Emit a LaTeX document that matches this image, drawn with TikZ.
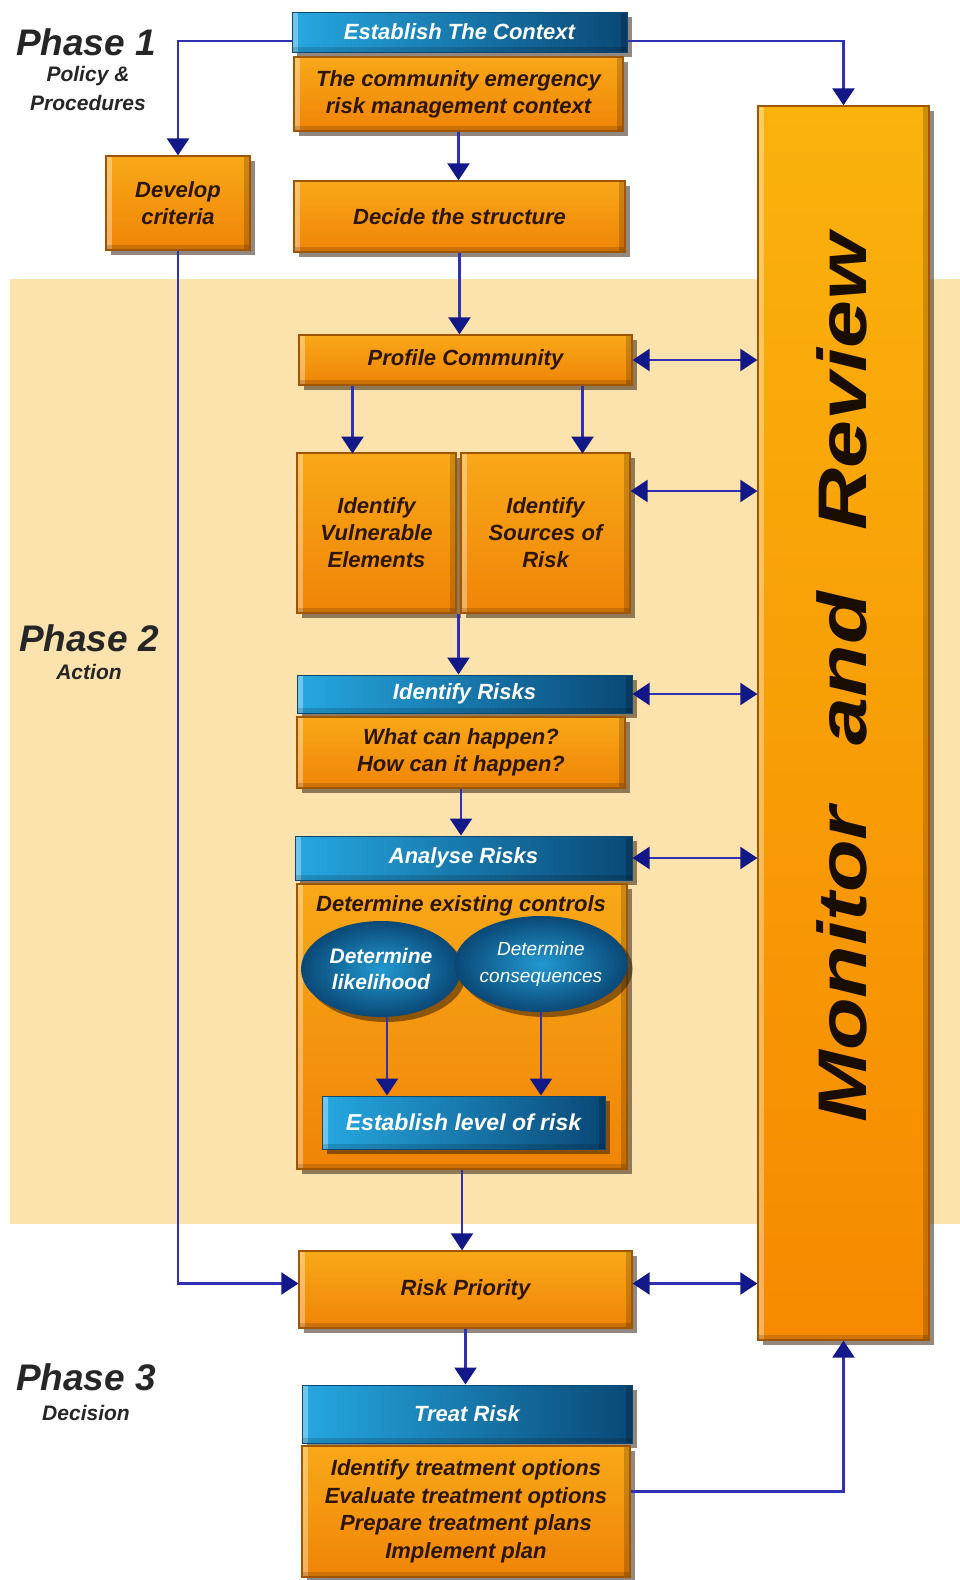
\documentclass[tikz,border=0pt]{standalone}
\usepackage{fontspec}
\setmainfont{Liberation Sans}
\usetikzlibrary{arrows.meta,shapes.geometric,shadows,calc}

\definecolor{peach}{RGB}{252,226,172}
\definecolor{orTop}{RGB}{248,168,24}
\definecolor{orBot}{RGB}{240,132,6}
\definecolor{orEdge}{RGB}{160,86,0}
\definecolor{blL}{RGB}{38,168,225}
\definecolor{blR}{RGB}{10,72,118}
\definecolor{navy}{RGB}{18,24,135}
\definecolor{lineblue}{RGB}{48,48,178}
\definecolor{txt}{RGB}{45,22,8}
\definecolor{monTop}{RGB}{250,178,12}
\definecolor{monBot}{RGB}{246,138,0}

\newcommand{\fs}[2]{\fontsize{#1}{#2}\selectfont}

\tikzset{
  shade3d/.style={drop shadow={shadow xshift=5pt,shadow yshift=-5pt,fill=black!85!orange,opacity=0.5}},
  bevel/.style={path picture={
      \fill[white,opacity=0.35] (path picture bounding box.south west) rectangle ([xshift=6pt]path picture bounding box.north west);
      \fill[black,opacity=0.18] ([xshift=-6pt]path picture bounding box.south east) rectangle (path picture bounding box.north east);
      \fill[black,opacity=0.15] (path picture bounding box.south west) rectangle ([yshift=5pt]path picture bounding box.south east);
  }},
  obox/.style={rectangle,inner sep=0pt,align=center,top color=orTop,bottom color=orBot,
    draw=orEdge,line width=1.2pt,text=txt,font=\bfseries\itshape\fs{22}{27},shade3d,bevel},
  bbar/.style={rectangle,inner sep=0pt,align=center,left color=blL,right color=blR,
    draw=blR,line width=1pt,text=white,font=\bfseries\itshape\fs{22}{27},shade3d,bevel},
  ebox/.style={ellipse,inner sep=0pt,align=center,inner color=blL!85!blR,outer color=blR,
    text=white,shade3d},
  phase/.style={text=black!85,font=\bfseries\itshape\fs{37}{40}},
  phsub/.style={text=black!85,font=\bfseries\itshape\fs{21}{26}},
  con/.style={draw=lineblue,line width=2.2pt},
  >={Triangle[width=22pt,length=17pt,color=navy]},
}

\begin{document}
\begin{tikzpicture}[x=1pt,y=-1pt]
\useasboundingbox (0,0) rectangle (960,1580);
\fill[white] (0,0) rectangle (960,1580);
% phase 2 band
\fill[peach] (10,279) rectangle (960,1224);

% phase labels
\node[phase] (p1) at (86,42) {Phase 1};
\node[phsub] (p1a) at (88,76) {Policy \&};
\node[phsub] (p1b) at (88,103) {Procedures};
\node[phase] (p2) at (89,638) {Phase 2};
\node[phsub] (p2a) at (89,672) {Action};
\node[phase] (p3) at (86,1377) {Phase 3};
\node[phsub] (p3a) at (86,1413) {Decision};

% monitor column
\node[rectangle,minimum width=171pt,minimum height=1234pt,top color=monTop,bottom color=monBot,
  draw=orEdge,line width=1.2pt,shade3d,bevel] (mon) at (843.5,723) {};
\node[rotate=90,text=black!90!orange,font=\bfseries\itshape\fs{86}{90}] (montxt) at (842,678)
  {\scalebox{1}[0.8]{Monitor\hspace{62pt}and\hspace{62pt}Review}};

% phase 1 boxes
\node[bbar,minimum width=335pt,minimum height=40pt] (est) at (459.5,32) {Establish The Context};
\node[obox,minimum width=329pt,minimum height=74pt] (ctx) at (458.5,94) {The community emergency\\risk management context};
\node[obox,minimum width=331pt,minimum height=71pt] (dec) at (459.5,216.5) {Decide the structure};
\node[obox,minimum width=144pt,minimum height=94pt] (dev) at (178,203) {Develop\\criteria};

% phase 2 boxes
\node[obox,minimum width=333pt,minimum height=50pt] (prof) at (465.5,360) {Profile Community};
\node[obox,minimum width=159pt,minimum height=160pt] (vul) at (376.5,533) {Identify\\Vulnerable\\Elements};
\node[obox,minimum width=169pt,minimum height=160pt] (src) at (545.5,533) {Identify\\Sources of\\Risk};
\node[bbar,minimum width=335pt,minimum height=38pt] (idr) at (464.5,694) {Identify Risks};
\node[obox,minimum width=328pt,minimum height=71pt] (what) at (461,752.5) {What can happen?\\How can it happen?};
\node[bbar,minimum width=337pt,minimum height=44pt] (ana) at (463.5,858) {Analyse Risks};
\node[obox,minimum width=330pt,minimum height=285pt] (anabox) at (462,1026.5) {};
\node[text=txt,font=\bfseries\itshape\fs{22}{27}] (ctrl) at (461,906) {Determine existing controls};
\node[ebox,minimum width=160pt,minimum height=96pt,font=\bfseries\itshape\fs{21}{26}] (ell1) at (381,969) {Determine\\likelihood};
\node[ebox,minimum width=150pt,minimum height=96pt,font=\itshape\fs{19}{27}] (ell2) at (541,964) {Determine\\consequences};
\node[bbar,minimum width=283pt,minimum height=53pt,font=\bfseries\itshape\fs{23}{27}] (lvl) at (463.5,1122.5) {Establish level of risk};

% phase 3 boxes
\node[obox,minimum width=333pt,minimum height=77pt] (pri) at (465.5,1289.5) {Risk Priority};
\node[bbar,minimum width=330pt,minimum height=58pt] (treat) at (467,1414) {Treat Risk};
\node[obox,minimum width=328pt,minimum height=131pt,font=\bfseries\itshape\fs{22}{27.5}] (topt) at (466,1511.5)
  {Identify treatment options\\Evaluate treatment options\\Prepare treatment plans\\Implement plan};

% connectors
\draw[con,->] (est.west) ++(0,9) -| (dev.north);
\draw[con,->] (est.east) ++(0,9) -| (mon.north);
\draw[con,->] (ctx.south) -- (ctx.south |- dec.north);
\draw[con,->] (dec.south) -- (dec.south |- prof.north);
\draw[con,->] (dev.south) |- ([yshift=6pt]pri.west);
\draw[con,<->] (prof.east) -- (prof.east -| mon.west);
\draw[con,->] (prof.south -| vul.north) ++(-24,0) -- ++(0,68);
\draw[con,->] (prof.south -| src.north) ++(37,0) -- ++(0,68);
\draw[con,<->] ([yshift=42pt]src.east) -- ([yshift=42pt]src.east -| mon.west);
\coordinate (gap) at ($(vul.south east)!0.5!(src.south west)$);
\draw[con,->] (gap) -- (gap |- idr.north);
\draw[con,<->] (idr.east) -- (idr.east -| mon.west);
\draw[con,->] (what.south) -- (what.south |- ana.north);
\draw[con,<->] (ana.east) -- (ana.east -| mon.west);
\draw[con,->] ([xshift=6pt]ell1.south) -- ([xshift=6pt]ell1.south |- lvl.north);
\draw[con,->] (ell2.south) -- (ell2.south |- lvl.north);
\draw[con,->] (anabox.south) -- (anabox.south |- pri.north);
\draw[con,<->] ([yshift=6pt]pri.east) -- ([yshift=6pt]pri.east -| mon.west);
\draw[con,->] (pri.south) -- (pri.south |- treat.north);
\draw[con,->] ([yshift=20pt]topt.east) -| (mon.south);
\end{tikzpicture}
\end{document}
